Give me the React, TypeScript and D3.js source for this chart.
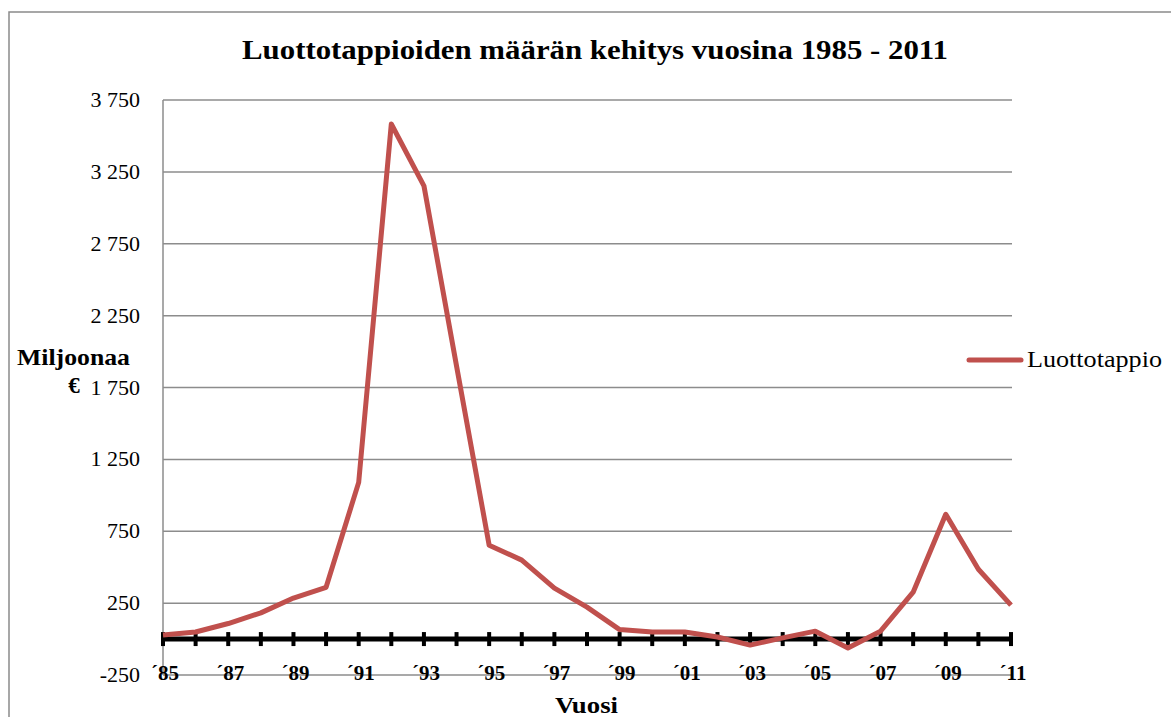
import React from "react";
import * as d3 from "d3";

const years: number[] = [1985, 1986, 1987, 1988, 1989, 1990, 1991, 1992, 1993, 1994, 1995, 1996, 1997, 1998, 1999, 2000, 2001, 2002, 2003, 2004, 2005, 2006, 2007, 2008, 2009, 2010, 2011];
const luottotappio: number[] = [28, 49, 108, 182, 285, 360, 1090, 3583, 3153, 1900, 653, 549, 354, 222, 66, 49, 49, 14, -42, 8, 55, -62, 55, 326, 868, 486, 236];
const yTicks: number[] = [-250, 250, 750, 1250, 1750, 2250, 2750, 3250, 3750];
const xLabelYears: number[] = [1985, 1987, 1989, 1991, 1993, 1995, 1997, 1999, 2001, 2003, 2005, 2007, 2009, 2011];

const title = "Luottotappioiden määrän kehitys vuosina 1985 - 2011";
const seriesName = "Luottotappio";

const fmt = (v: number) => {
  const s = Math.abs(v).toString();
  const withSpace = s.length > 3 ? s.slice(0, s.length - 3) + " " + s.slice(-3) : s;
  return (v < 0 ? "-" : "") + withSpace;
};

export default function App() {
  const W = 1171, H = 717;
  const left = 163, right = 1011, top = 100, bottom = 675;
  const x = d3.scalePoint<number>().domain(years).range([left, right]);
  const y = d3.scaleLinear().domain([-250, 3750]).range([bottom, top]);
  const line = d3.line<number>().x((_, i) => x(years[i]) as number).y((d) => y(d));
  const serif = '"Liberation Serif", "DejaVu Serif", "Times New Roman", serif';
  const ts: React.CSSProperties = { fontFamily: serif };
  const y0 = y(0);

  return (
    <svg width={W} height={H} style={{ position: "absolute", left: 0, top: 0, background: "#fff" }}>
      <rect x={9} y={12} width={1200} height={760} fill="#fff" stroke="#8a8a8a" strokeWidth={1.5} />
      <text x={242} y={59} fontSize={28} fontWeight="bold" fill="#000" style={ts} textLength={706} lengthAdjust="spacingAndGlyphs">{title}</text>
      {yTicks.map((t) => (
        <g key={t}>
          <line x1={left} x2={right + 1} y1={y(t)} y2={y(t)} stroke="#8c8c8c" strokeWidth={1.5} />
          <text x={140} y={y(t) + 7} textAnchor="end" fontSize={22} fill="#000" style={ts}>{fmt(t)}</text>
        </g>
      ))}
      <line x1={left} x2={left} y1={top} y2={bottom} stroke="#8c8c8c" strokeWidth={1.5} />
      <line x1={left - 2} x2={right + 2} y1={y0} y2={y0} stroke="#000" strokeWidth={5} />
      {years.map((yr) => (
        <line key={yr} x1={x(yr)} x2={x(yr)} y1={y0 - 7} y2={y0 + 7} stroke="#000" strokeWidth={4} />
      ))}
      {xLabelYears.map((yr) => (
        <text key={yr} x={(x(yr) as number) + 2} y={680} textAnchor="middle" fontSize={21} fontWeight="bold" fill="#000" style={ts}>
          {"´" + String(yr).slice(2)}
        </text>
      ))}
      <path d={line(luottotappio) || ""} fill="none" stroke="#C0504D" strokeWidth={5} strokeLinejoin="round" />
      <text x={17} y={365} fontSize={23} fontWeight="bold" fill="#000" style={ts} textLength={113} lengthAdjust="spacingAndGlyphs">Miljoonaa</text>
      <text x={74} y={393} textAnchor="middle" fontSize={23} fontWeight="bold" fill="#000" style={ts}>€</text>
      <text x={555} y={713} fontSize={24} fontWeight="bold" fill="#000" style={ts} textLength={63} lengthAdjust="spacingAndGlyphs">Vuosi</text>
      <line x1={969} x2={1021} y1={360} y2={360} stroke="#C0504D" strokeWidth={5} strokeLinecap="round" />
      <text x={1027} y={367} fontSize={23} fill="#000" style={ts} textLength={135} lengthAdjust="spacingAndGlyphs">{seriesName}</text>
    </svg>
  );
}
